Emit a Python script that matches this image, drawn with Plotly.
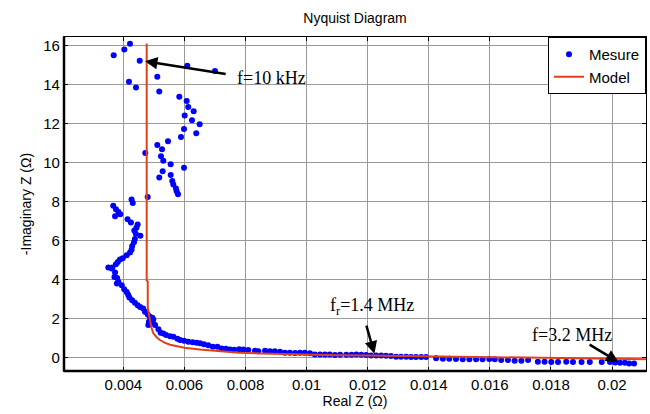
import plotly.graph_objects as go

# Measured impedance (Real Z, -Imaginary Z), in ohms
mes_re = [
    0.004219, 0.004033, 0.003686, 0.004537, 0.006095, 0.007001, 0.005113, 0.004187,
    0.004416, 0.005178, 0.005833, 0.006074, 0.006127, 0.006304, 0.006009, 0.006248,
    0.006500, 0.005987, 0.006389, 0.005888, 0.005463, 0.005113, 0.005267, 0.004720,
    0.005234, 0.005309, 0.005551, 0.005987, 0.005289, 0.005551, 0.005178, 0.005604,
    0.005637, 0.005725, 0.005747, 0.005790, 0.004798,
    0.00427, 0.00431, 0.00367, 0.00376, 0.00384, 0.00390, 0.00373, 0.00414, 0.00425,
    0.00447, 0.00443, 0.00436, 0.00441, 0.00456, 0.00438, 0.00435, 0.00429, 0.00427,
    0.00422, 0.00411, 0.00398, 0.00389, 0.00382, 0.00376, 0.00364, 0.00351,
    0.00362, 0.00373, 0.00371, 0.00380, 0.00384, 0.00379, 0.00395, 0.00403, 0.00411,
    0.00416, 0.00420, 0.00429, 0.00438, 0.00447, 0.00455, 0.00465, 0.00471, 0.00480,
    0.00487, 0.00495, 0.00498, 0.00484, 0.00496, 0.00482, 0.00504, 0.00515, 0.00522,
    0.00531, 0.00540, 0.00553, 0.00564, 0.00577, 0.00586, 0.00599, 0.00613, 0.00627,
    0.00640, 0.00651, 0.00664, 0.00678, 0.00693, 0.00708, 0.00722, 0.00736, 0.00749,
    0.00763, 0.00779, 0.00793, 0.00809, 0.00831, 0.00842, 0.00864, 0.00880, 0.00896,
    0.00913, 0.00929, 0.00945, 0.00962, 0.00978, 0.00994, 0.01011, 0.01027, 0.01044,
    0.01060, 0.01076, 0.01093, 0.01110, 0.01130, 0.01147, 0.01163, 0.01179, 0.01195,
    0.01211, 0.01228, 0.01244, 0.01260, 0.01276, 0.01293, 0.01309, 0.01326, 0.01342,
    0.01358, 0.01375, 0.01391, 0.01424, 0.01446, 0.01467, 0.01489, 0.01511, 0.01533,
    0.01555, 0.01576, 0.01598, 0.01616, 0.01637, 0.01659, 0.01681, 0.01703, 0.01725,
    0.01757, 0.01779, 0.01801, 0.01823, 0.01850, 0.01872, 0.01900, 0.01927, 0.01966,
    0.01993, 0.02010, 0.02026, 0.02042, 0.02056, 0.02072,
]
mes_im = [
    16.10, 15.81, 15.51, 15.23, 14.97, 14.70, 14.41, 14.15,
    13.86, 13.65, 13.38, 13.16, 12.86, 12.64, 12.42, 12.18,
    11.97, 11.73, 11.51, 11.32, 11.10, 10.91, 10.69, 10.50,
    10.33, 10.09, 9.92, 9.73, 9.56, 9.37, 9.23, 9.06,
    8.87, 8.67, 8.53, 8.38, 8.24,
    8.10, 7.92, 7.79, 7.60, 7.47, 7.35, 7.24, 7.09, 6.92,
    6.82, 6.66, 6.52, 6.35, 6.25, 6.08, 5.91, 5.72, 5.53,
    5.39, 5.24, 5.09, 5.02, 4.90, 4.78, 4.61, 4.62,
    4.56, 4.36, 4.13, 4.08, 3.87, 3.79, 3.70, 3.50, 3.36,
    3.22, 3.07, 2.93, 2.81, 2.67, 2.59, 2.51, 2.34, 2.20,
    2.08, 2.03, 1.95, 1.83, 1.83, 1.66, 1.66, 1.44, 1.26,
    1.23, 1.15, 1.09, 1.06, 0.96, 0.89, 0.85, 0.80, 0.77,
    0.75, 0.72, 0.67, 0.62, 0.55, 0.55, 0.46, 0.44, 0.41,
    0.39, 0.42, 0.41, 0.38, 0.34, 0.32, 0.34, 0.32, 0.31,
    0.29, 0.24, 0.24, 0.22, 0.24, 0.24, 0.21, 0.15, 0.15,
    0.15, 0.15, 0.12, 0.13, 0.14, 0.13, 0.15, 0.13, 0.12,
    0.10, 0.10, 0.10, 0.08, 0.07, 0.03, 0.03, 0.03, 0.02,
    0.02, 0.02, 0.02, -0.05, -0.07, -0.07, -0.09, -0.10, -0.10,
    -0.10, -0.10, -0.09, -0.10, -0.14, -0.14, -0.17, -0.17, -0.14,
    -0.22, -0.22, -0.24, -0.24, -0.22, -0.24, -0.24, -0.24, -0.24,
    -0.24, -0.26, -0.28, -0.28, -0.31, -0.31,
]

# Fitted model curve
model_re = [
    0.004766, 0.004766, 0.00480, 0.00480, 0.00484, 0.00488, 0.00492, 0.00498,
    0.00510, 0.00520, 0.00535, 0.00553, 0.00575, 0.00600, 0.00650, 0.00716,
    0.00780, 0.00850, 0.00920, 0.01000, 0.01100, 0.01200, 0.01300, 0.01400,
    0.01500, 0.01600, 0.01700, 0.01800, 0.01900, 0.02000, 0.02050, 0.02115,
]
model_im = [
    16.12, 3.95, 3.90, 2.55, 2.20, 1.85, 1.55, 1.25,
    1.02, 0.89, 0.76, 0.65, 0.56, 0.49, 0.40, 0.31,
    0.24, 0.20, 0.17, 0.14, 0.11, 0.10, 0.08, 0.06,
    0.05, 0.03, 0.02, 0.00, -0.02, -0.05, -0.08, -0.10,
]

x_tick_vals = [0.004, 0.006, 0.008, 0.010, 0.012, 0.014, 0.016, 0.018, 0.020]
x_tick_text = ["0.004", "0.006", "0.008", "0.01", "0.012", "0.014", "0.016", "0.018", "0.02"]
y_tick_vals = [0, 2, 4, 6, 8, 10, 12, 14, 16]

SANS = "Liberation Sans, Arial, sans-serif"
SERIF = "Liberation Serif, Times New Roman, serif"

fig = go.Figure()
fig.add_trace(go.Scatter(
    x=mes_re, y=mes_im, mode="markers", name="Mesure",
    marker=dict(color="#0000ff", size=6, line=dict(width=0)),
))
fig.add_trace(go.Scatter(
    x=model_re, y=model_im, mode="lines", name="Model",
    line=dict(color="#e2401a", width=2),
))

# Frequency callouts: each label sits near the tail of its arrow
callouts = [
    # (head x, head y, tail x, tail y)
    (0.00471, 15.21, 0.00740, 14.54),
    (0.01222, 0.19, 0.011944, 1.71),
    (0.02021, -0.24, 0.019215, 0.70),
]
for hx, hy, tx, ty in callouts:
    fig.add_annotation(
        x=hx, y=hy, ax=tx, ay=ty, xref="x", yref="y", axref="x", ayref="y",
        text="", showarrow=True, arrowhead=2, arrowsize=1.0, arrowwidth=2.5,
        arrowcolor="black",
    )

labels = [
    (0.007656, 14.34, "f=10 kHz"),
    (0.01071, 2.59, "f<sub>r</sub>=1.4 MHz"),
    (0.017316, 1.13, "f=3.2 MHz"),
]
for lx, ly, txt in labels:
    fig.add_annotation(
        x=lx, y=ly, xref="x", yref="y", text=txt, showarrow=False,
        xanchor="left", yanchor="middle",
        font=dict(family=SERIF, size=18, color="black"),
    )

# Heavier left and bottom frame edges
fig.add_shape(type="line", xref="paper", yref="paper", x0=0, x1=0, y0=0, y1=1,
              line=dict(color="black", width=2.5), layer="above")
fig.add_shape(type="line", xref="paper", yref="paper", x0=0, x1=1, y0=0, y1=0,
              line=dict(color="black", width=2.5), layer="above")

axis_common = dict(
    showline=True, linecolor="black", linewidth=1.2, mirror="ticks",
    ticks="inside", ticklen=4, tickcolor="black",
    showgrid=True, gridcolor="#9a9a9a", gridwidth=1,
    zeroline=False, tickfont=dict(family=SANS, size=15, color="black"),
)

fig.update_layout(
    width=650, height=414,
    margin=dict(l=64, r=4, t=37, b=43),
    paper_bgcolor="white", plot_bgcolor="white",
    title=dict(text="Nyquist Diagram", x=0.5462, xanchor="center",
               y=1 - 18 / 414, yanchor="middle",
               font=dict(family=SANS, size=14, color="black")),
    xaxis=dict(range=[0.002059, 0.02111], tickvals=x_tick_vals, ticktext=x_tick_text,
               title=dict(text="Real Z (Ω)", standoff=2,
                          font=dict(family=SANS, size=14, color="black")),
               **axis_common),
    yaxis=dict(range=[-0.70, 16.45], tickvals=y_tick_vals,
               title=dict(text="-Imaginary Z (Ω)", standoff=8,
                          font=dict(family=SANS, size=14, color="black")),
               **axis_common),
    legend=dict(x=1, y=1, xanchor="right", yanchor="top",
                bgcolor="white", bordercolor="black", borderwidth=1,
                font=dict(family=SANS, size=15, color="black"),
                tracegroupgap=0, itemwidth=30),
    showlegend=True,
)

fig.write_html("out.html")
